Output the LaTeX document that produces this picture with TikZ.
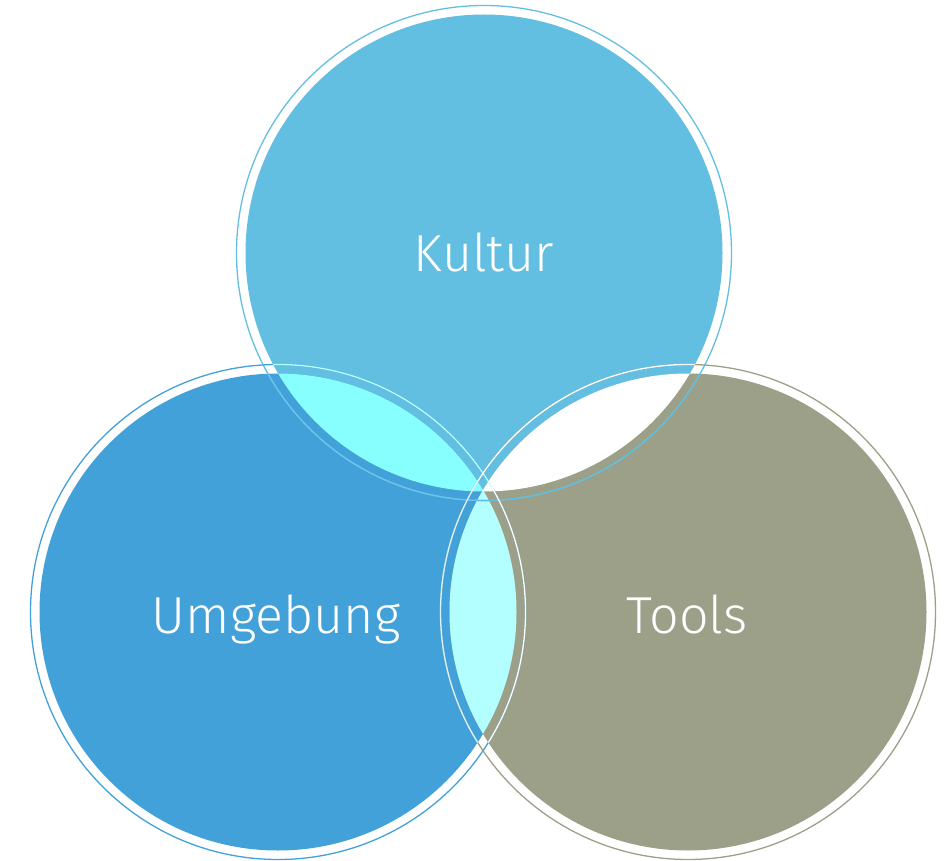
\documentclass[tikz,border=0pt]{standalone}
\usepackage{fontspec}
\newfontfamily\lblfont{Fira Sans Light}
\definecolor{kultur}{HTML}{62BFE1}
\definecolor{umgebung}{HTML}{43A1D9}
\definecolor{tools}{HTML}{9DA088}
\definecolor{kuLens}{HTML}{88FFFF}
\definecolor{utLens}{HTML}{B3FFFF}
\definecolor{kuRing}{HTML}{6CC3EC}
\tikzset{
  ring/.style={line width=1.3pt},
  label/.style={text=white, font=\lblfont\fontsize{52}{60}\selectfont, anchor=base}
}
\begin{document}
\begin{tikzpicture}[x=1pt,y=-1pt]
\useasboundingbox (0,0) rectangle (946,861);
\def\rf{238.5pt}
\def\rr{247.5pt}
\coordinate (K) at (484,253);
\coordinate (U) at (278,612);
\coordinate (T) at (688,612);

% base discs
\fill[kultur] (K) circle[radius=\rf];
\fill[umgebung] (U) circle[radius=\rf];
\fill[tools] (T) circle[radius=\rf];

% overlaps
\begin{scope}
  \clip (K) circle[radius=\rf];
  \fill[kuLens] (U) circle[radius=\rf];
  \fill[white] (T) circle[radius=\rf];
\end{scope}
\begin{scope}
  \clip (U) circle[radius=\rf];
  \fill[utLens] (T) circle[radius=\rf];
\end{scope}

% outer rings
\draw[ring, kultur] (K) circle[radius=\rr];
\draw[ring, umgebung] (U) circle[radius=\rr];
\draw[ring, tools] (T) circle[radius=\rr];

% rings where they cross another disc
\begin{scope}
  \clip (K) circle[radius=\rf];
  \draw[ring, kuLens!60!white] (U) circle[radius=\rr];
  \draw[ring, white] (T) circle[radius=\rr];
\end{scope}
\begin{scope}
  \clip (U) circle[radius=\rf];
  \draw[ring, kuRing] (K) circle[radius=\rr];
  \draw[ring, white!85!cyan] (T) circle[radius=\rr];
\end{scope}
\begin{scope}
  \clip (T) circle[radius=\rf];
  \draw[ring, kultur] (K) circle[radius=\rr];
  \draw[ring, white] (U) circle[radius=\rr];
\end{scope}

% labels
\node[label] (kultur) at (484,272) {Kultur};
\node[label] (umgebung) at (276,633) {Umgebung};
\node[label] (tools) at (687,633) {Tools};
\end{tikzpicture}
\end{document}
